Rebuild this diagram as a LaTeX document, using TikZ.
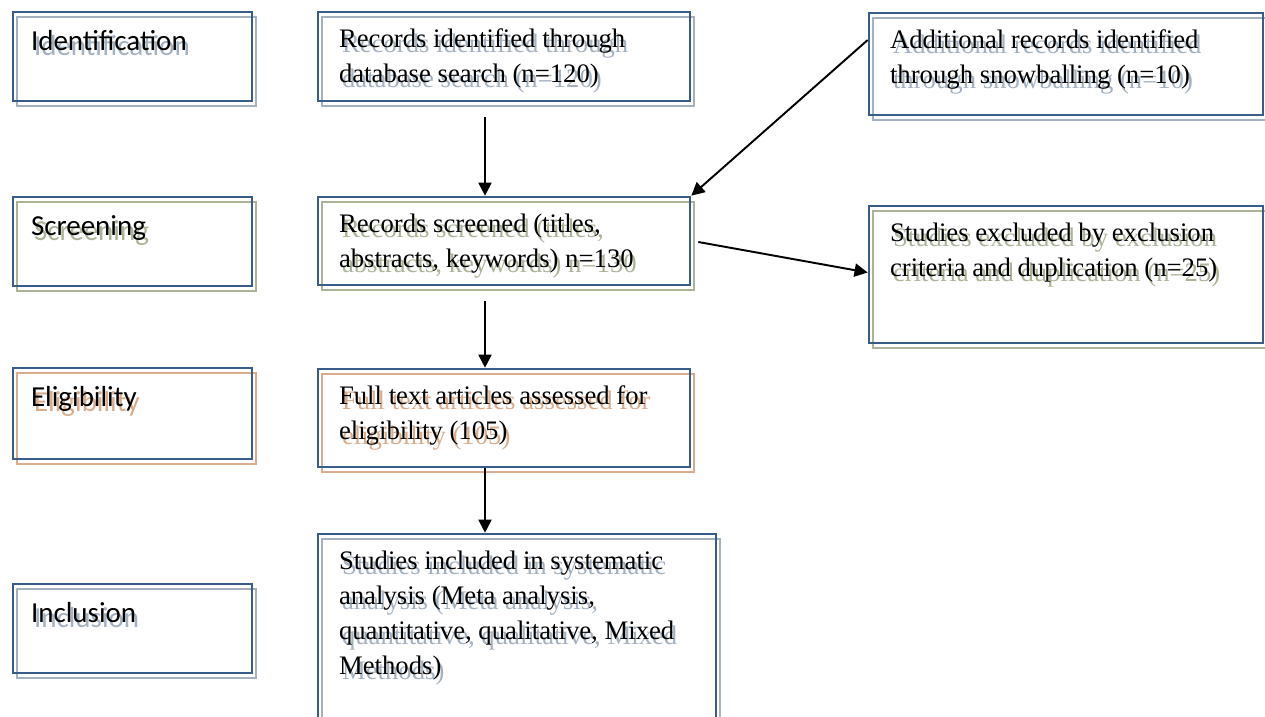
\documentclass[tikz,border=0pt]{standalone}
\usepackage{fontspec}
\setmainfont{Liberation Serif}
\newfontfamily\calibri{Carlito}
\usetikzlibrary{arrows.meta, positioning}
\definecolor{edgeblue}{HTML}{385D8A}
\definecolor{shadeblue}{HTML}{A3B1C1}
\definecolor{shadeolive}{HTML}{ABB497}
\definecolor{shadetan}{HTML}{D8AC8C}
\def\px{0.02cm}

% text of a box, with its offset copy behind it
\newcommand{\boxtext}[4]{%
    \node[#1, xshift=3*\px, yshift=-5*\px, text=#3] (#2-shadow) at (#2.north west) {\strut #4};
    \node[#1] (#2-text) at (#2.north west) {\strut #4};
}

\begin{document}
\begin{tikzpicture}[x=\px, y=-\px]
    \tikzstyle{box}=[draw=edgeblue, line width=1.5pt, inner sep=0pt,
        preaction={draw=#1, line width=1.4pt, transform canvas={shift={(4*\px,-5*\px)}}}]
    \tikzstyle{stagelabel}=[anchor=north west, inner sep=0pt, align=left,
        font=\calibri\fontsize{16.5}{20}\selectfont, xshift=19*\px, yshift=-15*\px]
    \tikzstyle{stagetext}=[anchor=north west, inner sep=0pt, align=left,
        font=\fontsize{15.2}{19.9}\selectfont, xshift=22*\px, yshift=-12*\px]
    \tikzstyle{flow}=[-{Triangle[length=7.5pt, width=7.5pt]}, line width=1.1pt, black]

    \clip (0,0) rectangle (1265,717);

    % Draw the stage boxes on the left
    \node[box=shadeblue, minimum width=239*\px, minimum height=89*\px] (idf) at (132.5,56.5) {};
    \node[box=shadeolive, minimum width=239*\px, minimum height=89*\px] (scr) at (132.5,241.5) {};
    \node[box=shadetan, minimum width=239*\px, minimum height=91*\px] (elg) at (132.5,413.5) {};
    \node[box=shadeblue, minimum width=239*\px, minimum height=89*\px] (inc) at (132.5,628.5) {};

    % Draw the record boxes
    \node[box=shadeblue, minimum width=372*\px, minimum height=89*\px] (rec) at (504,56.5) {};
    \node[box=shadeblue, minimum width=394*\px, minimum height=102*\px] (add) at (1066,64) {};
    \node[box=shadeolive, minimum width=372*\px, minimum height=88*\px] (rsc) at (504,241) {};
    \node[box=shadeolive, minimum width=394*\px, minimum height=137*\px] (exc) at (1066,274.5) {};
    \node[box=shadetan, minimum width=372*\px, minimum height=98*\px] (ful) at (504,418) {};
    \node[box=shadeblue, minimum width=398*\px, minimum height=196*\px] (stu) at (517,632) {};

    % Texts
    \boxtext{stagelabel}{idf}{shadeblue}{Identification}
    \boxtext{stagelabel}{scr}{shadeolive}{Screening}
    \boxtext{stagelabel}{elg}{shadetan}{Eligibility}
    \boxtext{stagelabel}{inc}{shadeblue}{Inclusion}
    \boxtext{stagetext}{rec}{shadeblue}{Records identified through\\database search (n=120)}
    \boxtext{stagetext}{add}{shadeblue}{Additional records identified\\through snowballing (n=10)}
    \boxtext{stagetext}{rsc}{shadeolive}{Records screened (titles,\\abstracts, keywords) n=130}
    \boxtext{stagetext}{exc}{shadeolive}{Studies excluded by exclusion\\criteria and duplication (n=25)}
    \boxtext{stagetext}{ful}{shadetan}{Full text articles assessed for\\eligibility (105)}
    \boxtext{stagetext}{stu}{shadeblue}{Studies included in systematic\\analysis (Meta analysis,\\quantitative, qualitative, Mixed\\Methods)}

    % Connect the boxes
    \draw[flow] ([shift={(-19,15)}]rec.south) -- ([shift={(-19,0)}]rsc.north);
    \draw[flow] ([shift={(0,-24)}]add.west) -- (rsc.north east);
    \draw[flow] ([shift={(7,1)}]rsc.east) -- ([shift={(0,-2)}]exc.west);
    \draw[flow] ([shift={(-19,15)}]rsc.south) -- ([shift={(-19,0)}]ful.north);
    \draw[flow] ([shift={(-19,0)}]ful.south) -- ([shift={(-32,0)}]stu.north);
\end{tikzpicture}
\end{document}
